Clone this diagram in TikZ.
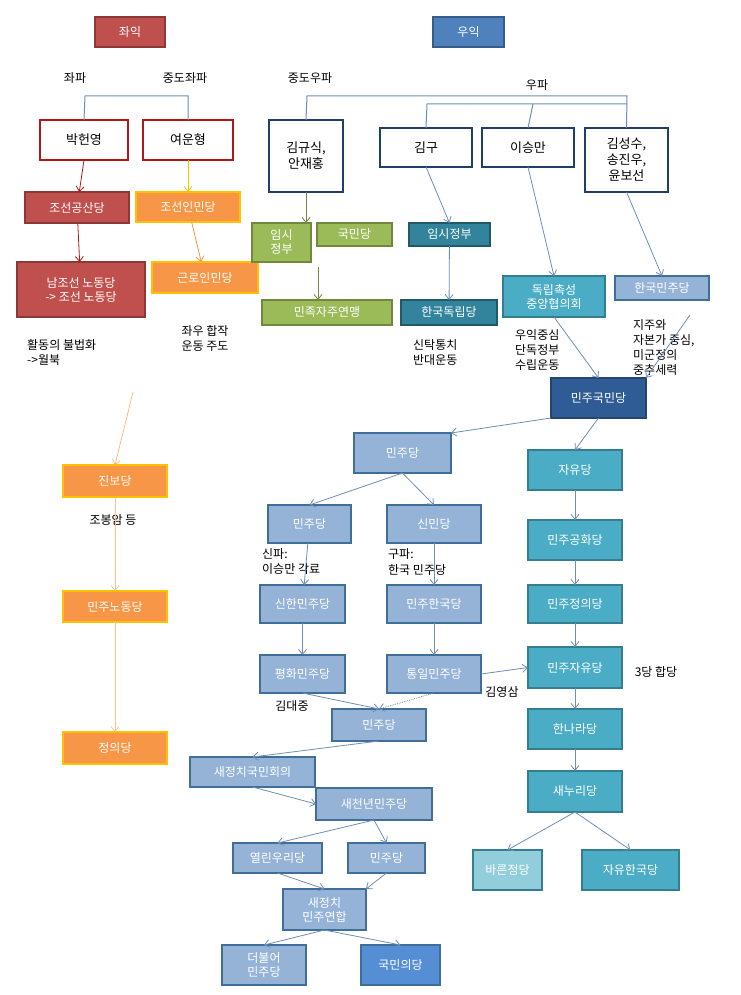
\documentclass[tikz,border=0pt]{standalone}
\usepackage{fontspec}
\setmainfont{Noto Sans CJK KR}
\usetikzlibrary{arrows.meta}
\definecolor{redf}{HTML}{C0504D}\definecolor{redb}{HTML}{8C3836}
\definecolor{dred}{HTML}{B01818}
\definecolor{bluef}{HTML}{4F81BD}\definecolor{blueb}{HTML}{385D8A}
\definecolor{navy}{HTML}{1F3F66}
\definecolor{oran}{HTML}{F79646}\definecolor{yel}{HTML}{FFC000}
\definecolor{grn}{HTML}{9BBB59}\definecolor{grnb}{HTML}{71893F}
\definecolor{teal}{HTML}{31849B}\definecolor{tealb}{HTML}{215968}
\definecolor{cyan}{HTML}{4BACC6}\definecolor{cyanb}{HTML}{357D91}
\definecolor{lb}{HTML}{95B3D7}\definecolor{lbb}{HTML}{3F6E98}
\definecolor{dkb}{HTML}{2F5C94}\definecolor{dkbb}{HTML}{24466E}
\definecolor{pb}{HTML}{92CDDC}\definecolor{mb}{HTML}{558ED5}
\definecolor{arr}{HTML}{6E8FB8}
\tikzset{
 bx/.style={draw,line width=2pt,inner sep=0pt,outer sep=0pt,align=center,font=\fontsize{12}{14}\selectfont,text=white},
 red/.style={bx,fill=redf,draw=redb},
 wr/.style={bx,fill=white,draw=dred,text=black,font=\fontsize{13}{16}\selectfont},
 wb/.style={bx,fill=white,draw=navy,text=black,font=\fontsize{13}{16}\selectfont},
 org/.style={bx,fill=oran,draw=yel},
 gr/.style={bx,fill=grn,draw=grnb},
 tl/.style={bx,fill=teal,draw=tealb},
 cy/.style={bx,fill=cyan,draw=cyanb},
 lt/.style={bx,fill=lb,draw=lbb},
 dk/.style={bx,fill=dkb,draw=dkbb},
 lab/.style={font=\fontsize{12}{15}\selectfont,align=left,inner sep=0pt},
 ar/.style={-{Straight Barb[length=5pt,width=8pt]},draw=arr,line width=0.8pt},
 ln/.style={draw=arr,line width=1pt}
}
\newcommand{\bx}[7]{\node[#6,minimum width={(#4-#2)*1pt},minimum height={(#5-#3)*1pt}] (#1) at ({(#2+#4)/2},{-(#3+#5)/2}) {#7};}
\begin{document}
\begin{tikzpicture}[x=1pt,y=1pt]
\fill[white] (0,0) rectangle (740,-995);
\bx{L}{95}{17}{165}{47}{red}{좌익}
\bx{R}{433}{17}{504}{47}{bx,fill=bluef,draw=blueb}{우익}
\node[lab] at (75,-78) {좌파};
\node[lab] at (185,-78) {중도좌파};
\node[lab] at (310,-78) {중도우파};
\node[lab] at (537,-85) {우파};
\coordinate (a1) at (85,-96); \coordinate (a2) at (188,-96);
\coordinate (b1) at (307,-96); \coordinate (b2) at (627,-96);
\coordinate (c1) at (427,-104); \coordinate (c2) at (627,-104); \coordinate (c3) at (533,-104);
\bx{phy}{40}{120}{128}{160}{wr}{박헌영}
\bx{yuh}{143}{120}{233}{160}{wr}{여운형}
\bx{kks}{269}{120}{343}{192}{wb}{김규식,\\안재홍}
\bx{kg}{380}{128}{472}{167}{wb}{김구}
\bx{lsm}{482}{128}{574}{167}{wb}{이승만}
\bx{kss}{585}{128}{668}{192}{wb}{김성수,\\송진우,\\윤보선}
\draw[ln] (phy.north) -- (a1) -- (a2) -- (yuh.north);
\draw[ln] (kks.north) -- (b1) -- (b2) -- (kss.north);
\draw[ln] (kg.north) -- (c1) -- (c2);
\draw[ln] (c3) -- (lsm.north);
\bx{jgs}{25}{192}{129}{223}{red}{조선공산당}
\bx{jim}{136}{192}{240}{222}{org}{조선인민당}
\bx{njs}{17}{262}{145}{317}{red}{남조선 노동당\\-> 조선 노동당}
\bx{klm}{152}{262}{258}{293}{org}{근로인민당}
\bx{ims}{252}{223}{311}{262}{gr}{임시\\정부}
\bx{kmd}{317}{223}{392}{246}{gr}{국민당}
\bx{mjj}{262}{300}{392}{325}{gr}{민족자주연맹}
\bx{imt}{409}{223}{490}{246}{tl}{임시정부}
\bx{hkd}{401}{300}{497}{325}{tl}{한국독립당}
\bx{dch}{503}{276}{605}{317}{cy}{독립촉성\\중앙협의회}
\bx{hmj}{615}{276}{709}{300}{lt}{한국민주당}
\node[lab] at (205,-338) {좌우 합작\\운동 주도};
\node[lab,anchor=west] at (27,-352) {활동의 불법화\\->월북};
\node[lab,anchor=west] at (413,-353) {신탁통치\\반대운동};
\node[lab,anchor=west] at (515,-350) {우익중심\\단독정부\\수립운동};
\node[lab,anchor=west] at (633,-348) {지주와\\자본가 중심,\\미군정의\\중추세력};
\bx{mgm}{551}{378}{646}{418}{dk}{민주국민당}
\bx{md1}{354}{433}{451}{473}{lt}{민주당}
\bx{jyd}{528}{450}{622}{490}{cy}{자유당}
\bx{md2}{268}{505}{351}{543}{lt}{민주당}
\bx{smd}{387}{505}{481}{543}{lt}{신민당}
\node[lab,anchor=west] at (262,-562) {신파:\\이승만 각료};
\node[lab,anchor=west] at (388,-562) {구파:\\한국 민주당};
\bx{shm}{260}{585}{345}{623}{lt}{신한민주당}
\bx{mhk}{387}{585}{481}{623}{lt}{민주한국당}
\bx{phm}{260}{655}{345}{693}{lt}{평화민주당}
\bx{tim}{387}{655}{481}{693}{lt}{통일민주당}
\bx{mgh}{528}{520}{622}{560}{cy}{민주공화당}
\bx{mjd}{528}{585}{622}{623}{cy}{민주정의당}
\bx{mjy}{528}{647}{622}{688}{cy}{민주자유당}
\node[lab] at (656,-672) {3당 합당};
\node[lab] at (502,-692) {김영삼};
\node[lab] at (292,-706) {김대중};
\bx{md3}{332}{709}{426}{741}{lt}{민주당}
\bx{hnr}{528}{709}{622}{749}{cy}{한나라당}
\bx{snr}{528}{771}{622}{812}{cy}{새누리당}
\bx{sjk}{190}{757}{315}{787}{lt}{새정치국민회의}
\bx{scn}{316}{788}{432}{820}{lt}{새천년민주당}
\bx{ylu}{233}{843}{322}{873}{lt}{열린우리당}
\bx{md4}{348}{843}{425}{873}{lt}{민주당}
\bx{sjm}{283}{889}{366}{930}{lt}{새정치\\민주연합}
\bx{dbm}{222}{945}{306}{985}{lt}{더불어\\민주당}
\bx{kmu}{361}{945}{440}{985}{bx,fill=mb,draw=lbb}{국민의당}
\bx{brj}{473}{850}{542}{890}{bx,fill=pb,draw=cyanb}{바른정당}
\bx{jhk}{582}{850}{679}{890}{cy}{자유한국당}
\bx{jbd}{63}{465}{167}{497}{org}{진보당}
\node[lab] at (113,-520) {조봉암 등};
\bx{mnd}{63}{591}{167}{622}{org}{민주노동당}
\bx{jud}{63}{732}{167}{764}{org}{정의당}
\coordinate (o1) at (133,-392);
% arrows
\draw[ar,draw=dred] (phy.south) ++(0,0) -- (jgs);
\draw[ar,draw=dred] (jgs) -- (njs);
\draw[ar,draw=yel] (yuh) -- (jim);
\draw[ar,draw=oran] (jim) -- (klm);
\draw[ar,draw=grnb] (kks) -- (ims.north-|kks);
\draw[ar,draw=grnb] (318,-267) -- (mjj.north-|318,0);
\draw[ar] (kg.south) -- (imt.north);
\draw[ar] (imt) -- (hkd);
\draw[ar] (lsm.south) -- (dch.north);
\draw[ar] (kss.south) -- (hmj.north);
\draw[ar] (dch.south) -- (mgm.north);
\draw[ar] (690,-315) -- (mgm.north east);
\draw[ar] (mgm.south west) -- (md1.north east);
\draw[ar] (mgm.south) -- (jyd.north);
\draw[ar] (md1.south) -- (md2.north);
\draw[ar] (md1.south) -- (smd.north);
\draw[ar] (md2) -- (shm);
\draw[ar] (smd) -- (mhk);
\draw[ar] (shm) -- (phm);
\draw[ar] (mhk) -- (tim);
\draw[ar] (phm.south) -- (md3.north);
\draw[ar,densely dotted] (tim.south) -- (md3.north);
\draw[ar] (tim.east) -- (mjy.west);
\draw[ar] (jyd) -- (mgh);
\draw[ar] (mgh) -- (mjd);
\draw[ar] (mjd) -- (mjy);
\draw[ar] (mjy) -- (hnr);
\draw[ar] (hnr) -- (snr);
\draw[ar] (md3.south) -- (sjk.north);
\draw[ar] (sjk.south) -- (scn.west);
\draw[ar] (scn.south) -- (ylu.north);
\draw[ar] (scn.south) -- (md4.north);
\draw[ar] (ylu.south) -- (sjm.north);
\draw[ar] (md4.south) -- (sjm.north east);
\draw[ar] (sjm.south) -- (dbm.north);
\draw[ar] (sjm.south) -- (kmu.north);
\draw[ar] (snr.south) -- (brj.north);
\draw[ar] (snr.south) -- (jhk.north);
\draw[ar,draw=oran!80,line width=0.6pt] (o1) -- (jbd.north);
\draw[ar,draw=oran!60,line width=0.6pt] (jbd) -- (mnd);
\draw[ar,draw=oran!60,line width=0.6pt] (mnd) -- (jud);
\end{tikzpicture}
\end{document}
